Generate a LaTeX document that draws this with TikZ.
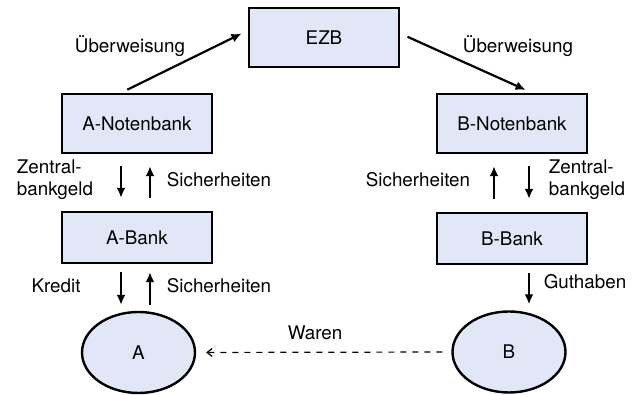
\documentclass[tikz,border=0pt]{standalone}
\usepackage{fontspec}
\setmainfont{TeX Gyre Heros}
\usetikzlibrary{arrows.meta}
\usetikzlibrary{shapes}
\definecolor{boxblue}{RGB}{225,231,247}
\begin{document}
\begin{tikzpicture}[x=0.5pt, y=0.5pt]
   \tikzset{BankStyle/.style={draw, line width=1.2pt, fill=boxblue, minimum width=75pt, inner sep=0pt, font=\fontsize{9.4}{11}\selectfont}}
   \tikzset{PersonStyle/.style={draw, ellipse, line width=1.2pt, fill=boxblue, minimum width=56.5pt, minimum height=40.5pt, inner sep=0pt, font=\fontsize{9.4}{11}\selectfont}}
   \tikzset{LabelStyle/.style={align=left, inner sep=0pt, font=\fontsize{9.4}{11}\selectfont}}
   \tikzset{FlowStyle/.style={line width=1.1pt, -{Latex[length=5pt,width=4.5pt]}}}
   \useasboundingbox (0,0) rectangle (633,395);
   \node[BankStyle, minimum height=29.5pt] (EZB) at (324,357.5) {EZB};
   \node[BankStyle, minimum height=29.5pt] (ANB) at (137,271.5) {A-Notenbank};
   \node[BankStyle, minimum height=25.5pt] (AB) at (137,157.5) {A-Bank};
   \node[BankStyle, minimum height=29.5pt] (BNB) at (512,271.5) {B-Notenbank};
   \node[BankStyle, minimum height=25.5pt] (BB) at (512,156.5) {B-Bank};
   \node[PersonStyle] (A) at (138.5,42.5) {A};
   \node[PersonStyle] (B) at (509,43) {B};
   \draw[FlowStyle, shorten <=3.5pt, shorten >=3.5pt] ([xshift=-8pt]ANB.north) -- ([yshift=3.5pt]EZB.west);
   \draw[FlowStyle, shorten <=4pt, shorten >=3.5pt] ([yshift=2pt]EZB.east) -- ([xshift=10pt]BNB.north);
   \draw[FlowStyle] ([xshift=-8pt,yshift=-6pt]ANB.south) -- ([xshift=-8pt,yshift=6.5pt]AB.north);
   \draw[FlowStyle] ([xshift=6.5pt,yshift=6.5pt]AB.north) -- ([xshift=6.5pt,yshift=-6pt]ANB.south);
   \draw[FlowStyle] ([xshift=-8pt,yshift=-4pt]AB.south) -- ([xshift=-8.75pt,yshift=3pt]A.north);
   \draw[FlowStyle] ([xshift=5.75pt,yshift=3pt]A.north) -- ([xshift=6.5pt,yshift=-4pt]AB.south);
   \draw[FlowStyle] ([xshift=-9pt,yshift=6.5pt]BB.north) -- ([xshift=-9pt,yshift=-6pt]BNB.south);
   \draw[FlowStyle] ([xshift=8.5pt,yshift=-6pt]BNB.south) -- ([xshift=8.5pt,yshift=6.5pt]BB.north);
   \draw[FlowStyle] ([xshift=8.5pt,yshift=-4pt]BB.south) -- ([xshift=10pt,yshift=3pt]B.north);
   \draw[line width=0.6pt, dashed, -{Straight Barb[length=2.5pt,width=4pt]}, shorten <=4.5pt, shorten >=5pt] (B.west) -- (A.east);
   \node[LabelStyle] (ueA) at (130,349) {Überweisung};
   \node[LabelStyle] (ueB) at (518,349) {Überweisung};
   \node[LabelStyle] (zgA) at (55,215) {Zentral-\\bankgeld};
   \node[LabelStyle] (siA) at (219,215) {Sicherheiten};
   \node[LabelStyle] (kr) at (56,109) {Kredit};
   \node[LabelStyle] (siA2) at (219,109) {Sicherheiten};
   \node[LabelStyle] (siB) at (418,215) {Sicherheiten};
   \node[LabelStyle] (zgB) at (587,215) {Zentral-\\bankgeld};
   \node[LabelStyle] (gh) at (585,113) {Guthaben};
   \node[LabelStyle] (wa) at (315,62) {Waren};
\end{tikzpicture}
\end{document}
